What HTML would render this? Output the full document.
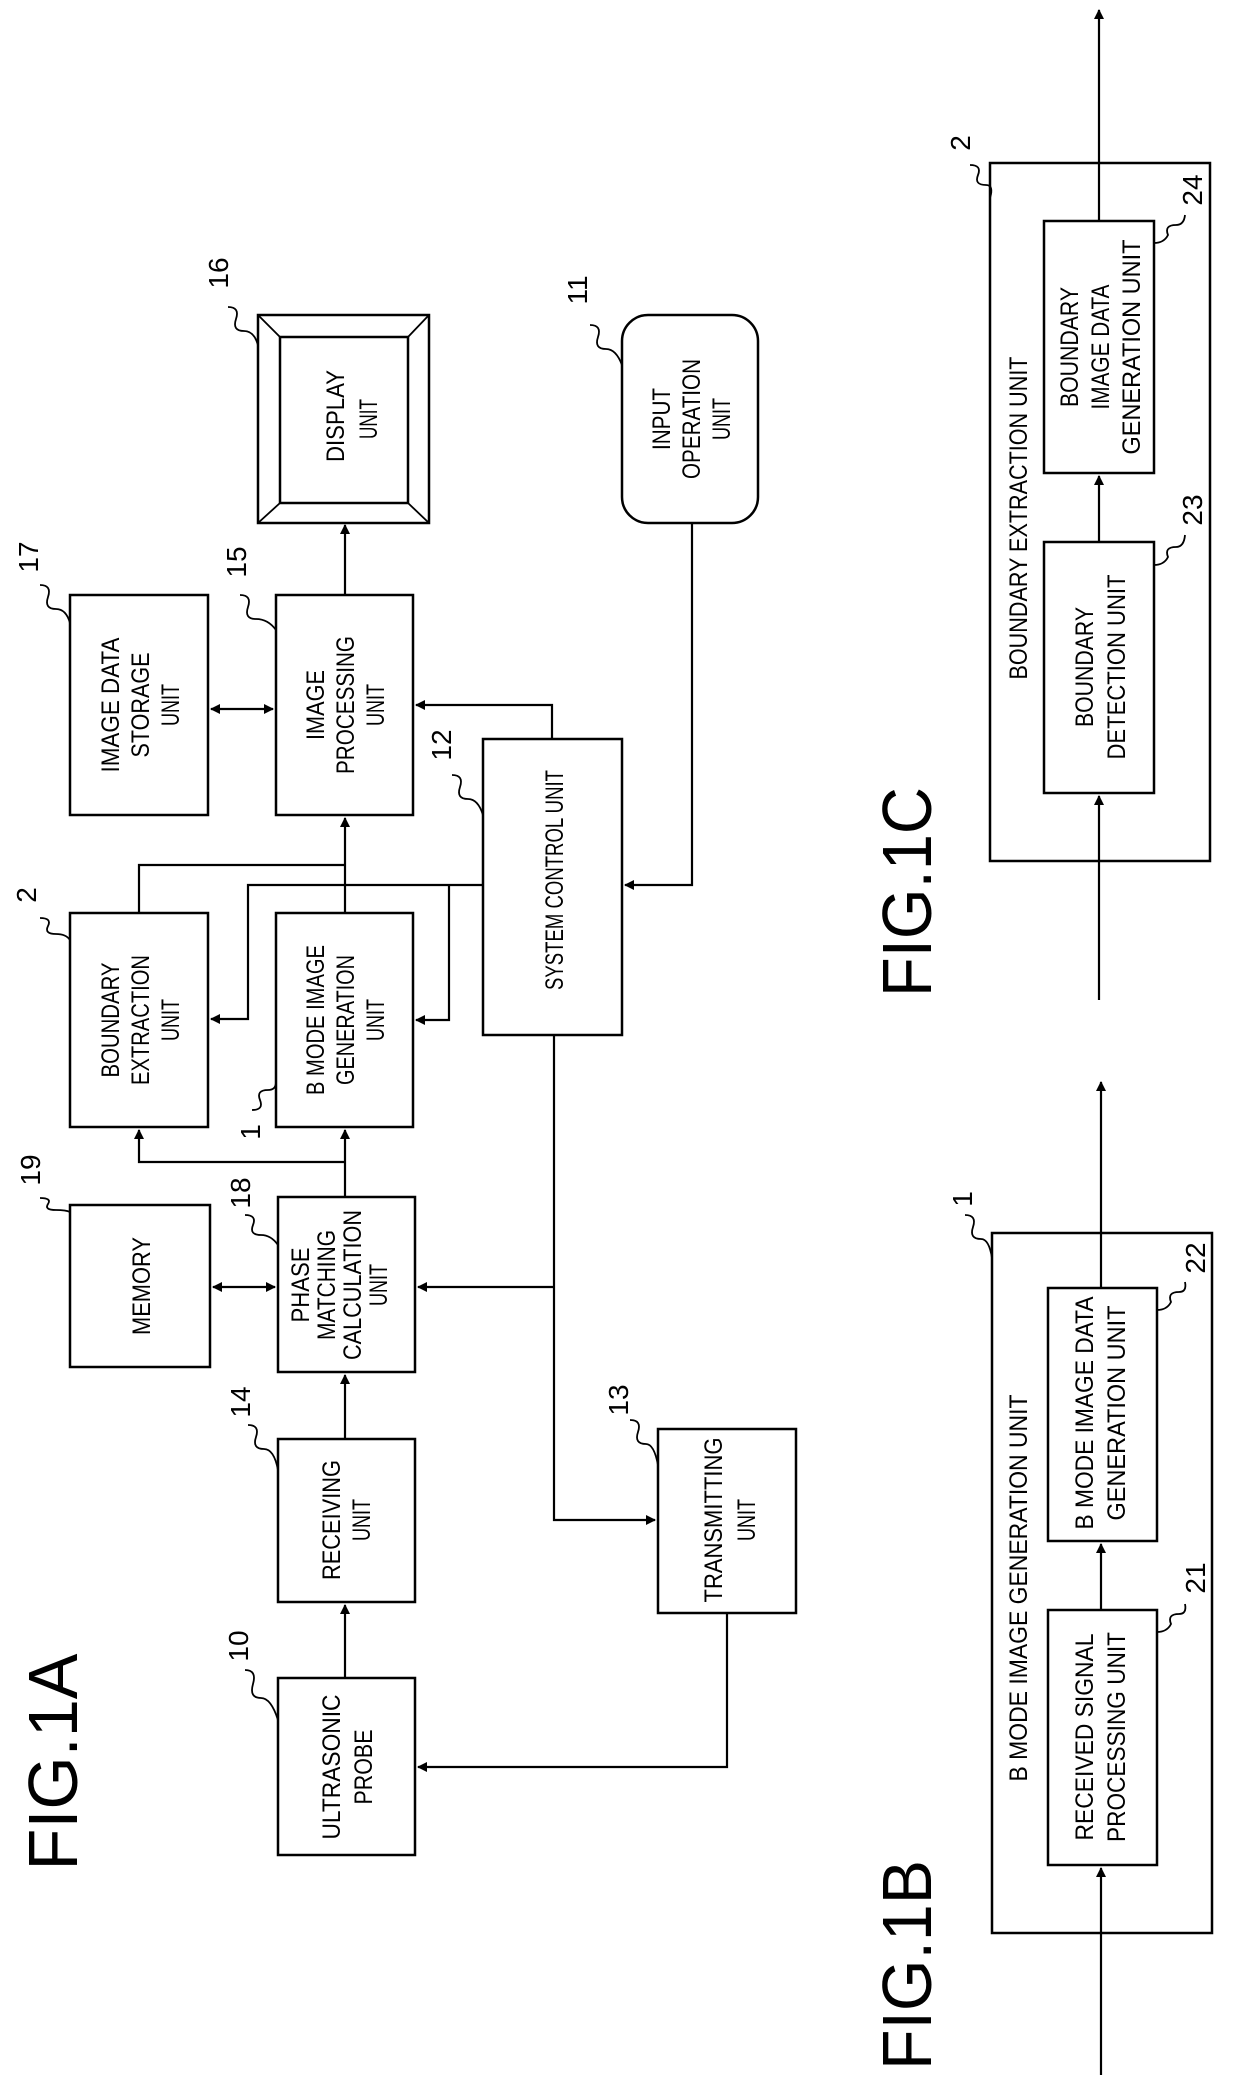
<!DOCTYPE html>
<html><head><meta charset="utf-8"><style>
html,body{margin:0;padding:0;background:#fff}
svg{display:block}
text{font-family:"Liberation Sans",sans-serif;fill:#000}
.b{fill:none;stroke:#000;stroke-width:2.5}
.l{fill:none;stroke:#000;stroke-width:2.2}
.s{fill:none;stroke:#000;stroke-width:1.8}
.t{font-size:25px}
.n{font-size:28px}
.f{font-size:70px}
</style></head><body>
<svg width="1240" height="2078" viewBox="0 0 1240 2078" xmlns="http://www.w3.org/2000/svg">
<defs>
<marker id="a" markerWidth="10" markerHeight="10" refX="9" refY="5" orient="auto" markerUnits="userSpaceOnUse"><path d="M0,0 L10,5 L0,10 z" fill="#000"/></marker>
<marker id="as" markerWidth="10" markerHeight="10" refX="1" refY="5" orient="auto" markerUnits="userSpaceOnUse"><path d="M10,0 L0,5 L10,10 z" fill="#000"/></marker>
</defs>

<!-- FIG 1A boxes -->
<rect class="b" x="258" y="315" width="171" height="208"/>
<rect class="b" x="280" y="337" width="128" height="166"/>
<path class="s" d="M258,315 L280,337 M429,315 L408,337 M258,523 L280,503 M429,523 L408,503"/>
<rect class="b" x="622" y="315" width="136" height="208" rx="26"/>
<rect class="b" x="70" y="595" width="138" height="220"/>
<rect class="b" x="276" y="595" width="137" height="220"/>
<rect class="b" x="483" y="739" width="139" height="296"/>
<rect class="b" x="70" y="913" width="138" height="214"/>
<rect class="b" x="276" y="913" width="137" height="214"/>
<rect class="b" x="70" y="1205" width="140" height="162"/>
<rect class="b" x="278" y="1197" width="137" height="175"/>
<rect class="b" x="278" y="1439" width="137" height="163"/>
<rect class="b" x="658" y="1429" width="138" height="184"/>
<rect class="b" x="278" y="1678" width="137" height="177"/>

<!-- FIG 1A connectors -->
<path class="l" d="M345,595 L345,525" marker-end="url(#a)"/>
<path class="l" d="M211,709 L273,709" marker-start="url(#as)" marker-end="url(#a)"/>
<path class="l" d="M552,739 L552,705 L416,705" marker-end="url(#a)"/>
<path class="l" d="M692,523 L692,885 L625,885" marker-end="url(#a)"/>
<path class="l" d="M483,885 L248,885 L248,1019 L211,1019" marker-end="url(#a)"/>
<path class="l" d="M449,885 L449,1020 L416,1020" marker-end="url(#a)"/>
<path class="l" d="M345,913 L345,818" marker-end="url(#a)"/>
<path class="l" d="M139,913 L139,865 L345,865"/>
<path class="l" d="M345,1197 L345,1130" marker-end="url(#a)"/>
<path class="l" d="M345,1162 L139,1162 L139,1130" marker-end="url(#a)"/>
<path class="l" d="M213,1287 L275,1287" marker-start="url(#as)" marker-end="url(#a)"/>
<path class="l" d="M554,1035 L554,1520 L655,1520" marker-end="url(#a)"/>
<path class="l" d="M554,1287 L418,1287" marker-end="url(#a)"/>
<path class="l" d="M345,1439 L345,1375" marker-end="url(#a)"/>
<path class="l" d="M345,1678 L345,1605" marker-end="url(#a)"/>
<path class="l" d="M727,1613 L727,1767 L418,1767" marker-end="url(#a)"/>

<!-- FIG 1B -->
<rect class="b" x="992" y="1233" width="220" height="700"/>
<rect class="b" x="1048" y="1610" width="109" height="255"/>
<rect class="b" x="1048" y="1288" width="109" height="253"/>
<path class="l" d="M1101,2075 L1101,1868" marker-end="url(#a)"/>
<path class="l" d="M1101,1610 L1101,1544" marker-end="url(#a)"/>
<path class="l" d="M1101,1288 L1101,1082" marker-end="url(#a)"/>

<!-- FIG 1C -->
<rect class="b" x="990" y="163" width="220" height="698"/>
<rect class="b" x="1044" y="221" width="110" height="252"/>
<rect class="b" x="1044" y="542" width="110" height="251"/>
<path class="l" d="M1099,1000 L1099,796" marker-end="url(#a)"/>
<path class="l" d="M1099,542 L1099,476" marker-end="url(#a)"/>
<path class="l" d="M1099,221 L1099,10" marker-end="url(#a)"/>

<!-- squiggles -->
<g class="s">
<path d="M228,307 q12,0 8,12 q-4,12 8,12 q10,0 14,14"/>
<path d="M40,585 q12,0 8,12 q-4,12 8,12 q10,0 14,14"/>
<path d="M240,595 q12,0 8,12 q-4,12 8,12 q12,0 20,11"/>
<path d="M452,775 q12,0 8,12 q-4,12 8,12 q10,0 15,16"/>
<path d="M590,325 q12,0 8,12 q-4,12 8,12 q10,0 16,16"/>
<path d="M40,918 q12,0 8,8 q-4,8 8,8 q10,0 14,6"/>
<path d="M970,165 q12,0 8,10 q-4,10 8,10 q8,0 4,13"/>
<path d="M1154,243 q10,0 14,-8 q-4,-10 8,-10 q8,0 9,-10"/>
<path d="M1154,565 q10,0 14,-8 q-4,-10 8,-10 q8,0 9,-12"/>
<path d="M252,1110 q12,0 8,-10 q-4,-10 8,-10 q8,0 8,-8"/>
<path d="M40,1198 q12,0 8,6 q-4,6 8,6 q10,0 14,2"/>
<path d="M245,1215 q12,0 8,10 q-4,10 8,10 q10,0 17,10"/>
<path d="M248,1425 q12,0 8,12 q-4,12 8,12 q10,0 14,21"/>
<path d="M630,1420 q12,0 8,12 q-4,12 8,12 q8,0 12,21"/>
<path d="M245,1670 q12,0 8,14 q-4,14 8,14 q10,0 17,22"/>
<path d="M965,1215 q12,0 8,12 q-4,12 8,12 q8,0 11,19"/>
<path d="M1157,1310 q10,0 14,-8 q-4,-10 8,-10 q8,0 6,-10"/>
<path d="M1157,1632 q10,0 14,-8 q-4,-10 8,-10 q8,0 6,-10"/>
</g>

<!-- labels numbers -->
<g class="n" text-anchor="middle">
<text transform="translate(228,273) rotate(-90)">16</text>
<text transform="translate(38,557) rotate(-90)">17</text>
<text transform="translate(246,562) rotate(-90)">15</text>
<text transform="translate(451,745) rotate(-90)">12</text>
<text transform="translate(587,290) rotate(-90)">11</text>
<text transform="translate(36,895) rotate(-90)">2</text>
<text transform="translate(970,143) rotate(-90)">2</text>
<text transform="translate(1202,190) rotate(-90)">24</text>
<text transform="translate(1202,510) rotate(-90)">23</text>
<text transform="translate(260,1132) rotate(-90)">1</text>
<text transform="translate(40,1170) rotate(-90)">19</text>
<text transform="translate(250,1193) rotate(-90)">18</text>
<text transform="translate(250,1402) rotate(-90)">14</text>
<text transform="translate(628,1400) rotate(-90)">13</text>
<text transform="translate(248,1646) rotate(-90)">10</text>
<text transform="translate(972,1199) rotate(-90)">1</text>
<text transform="translate(1205,1258) rotate(-90)">22</text>
<text transform="translate(1205,1578) rotate(-90)">21</text>
</g>

<!-- FIG titles -->
<g class="f" text-anchor="middle">
<text transform="translate(77,1762) rotate(-90)" textLength="217" lengthAdjust="spacingAndGlyphs">FIG.1A</text>
<text transform="translate(931,1965) rotate(-90)" textLength="210" lengthAdjust="spacingAndGlyphs">FIG.1B</text>
<text transform="translate(931,892) rotate(-90)" textLength="210" lengthAdjust="spacingAndGlyphs">FIG.1C</text>
</g>

<!-- box texts -->
<g class="t" text-anchor="middle">
<text transform="translate(344,416) rotate(-90)" textLength="92" lengthAdjust="spacingAndGlyphs">DISPLAY</text>
<text transform="translate(377,419) rotate(-90)" textLength="40" lengthAdjust="spacingAndGlyphs">UNIT</text>

<text transform="translate(670,419) rotate(-90)" textLength="62" lengthAdjust="spacingAndGlyphs">INPUT</text>
<text transform="translate(700,419) rotate(-90)" textLength="120" lengthAdjust="spacingAndGlyphs">OPERATION</text>
<text transform="translate(730,419) rotate(-90)" textLength="42" lengthAdjust="spacingAndGlyphs">UNIT</text>

<text transform="translate(119,705) rotate(-90)" textLength="135" lengthAdjust="spacingAndGlyphs">IMAGE DATA</text>
<text transform="translate(149,705) rotate(-90)" textLength="105" lengthAdjust="spacingAndGlyphs">STORAGE</text>
<text transform="translate(179,705) rotate(-90)" textLength="42" lengthAdjust="spacingAndGlyphs">UNIT</text>

<text transform="translate(324,705) rotate(-90)" textLength="70" lengthAdjust="spacingAndGlyphs">IMAGE</text>
<text transform="translate(354,705) rotate(-90)" textLength="138" lengthAdjust="spacingAndGlyphs">PROCESSING</text>
<text transform="translate(384,705) rotate(-90)" textLength="42" lengthAdjust="spacingAndGlyphs">UNIT</text>

<text transform="translate(563,880) rotate(-90)" textLength="220" lengthAdjust="spacingAndGlyphs">SYSTEM CONTROL UNIT</text>

<text transform="translate(119,1020) rotate(-90)" textLength="115" lengthAdjust="spacingAndGlyphs">BOUNDARY</text>
<text transform="translate(149,1020) rotate(-90)" textLength="130" lengthAdjust="spacingAndGlyphs">EXTRACTION</text>
<text transform="translate(179,1020) rotate(-90)" textLength="42" lengthAdjust="spacingAndGlyphs">UNIT</text>

<text transform="translate(324,1020) rotate(-90)" textLength="150" lengthAdjust="spacingAndGlyphs">B MODE IMAGE</text>
<text transform="translate(354,1020) rotate(-90)" textLength="130" lengthAdjust="spacingAndGlyphs">GENERATION</text>
<text transform="translate(384,1020) rotate(-90)" textLength="42" lengthAdjust="spacingAndGlyphs">UNIT</text>

<text transform="translate(150,1286) rotate(-90)" textLength="98" lengthAdjust="spacingAndGlyphs">MEMORY</text>

<text transform="translate(309,1285) rotate(-90)" textLength="75" lengthAdjust="spacingAndGlyphs">PHASE</text>
<text transform="translate(335,1285) rotate(-90)" textLength="110" lengthAdjust="spacingAndGlyphs">MATCHING</text>
<text transform="translate(361,1285) rotate(-90)" textLength="150" lengthAdjust="spacingAndGlyphs">CALCULATION</text>
<text transform="translate(387,1285) rotate(-90)" textLength="42" lengthAdjust="spacingAndGlyphs">UNIT</text>

<text transform="translate(340,1520) rotate(-90)" textLength="120" lengthAdjust="spacingAndGlyphs">RECEIVING</text>
<text transform="translate(370,1520) rotate(-90)" textLength="42" lengthAdjust="spacingAndGlyphs">UNIT</text>

<text transform="translate(722,1520) rotate(-90)" textLength="165" lengthAdjust="spacingAndGlyphs">TRANSMITTING</text>
<text transform="translate(755,1520) rotate(-90)" textLength="42" lengthAdjust="spacingAndGlyphs">UNIT</text>

<text transform="translate(340,1767) rotate(-90)" textLength="145" lengthAdjust="spacingAndGlyphs">ULTRASONIC</text>
<text transform="translate(372,1767) rotate(-90)" textLength="75" lengthAdjust="spacingAndGlyphs">PROBE</text>

<text transform="translate(1027,1588) rotate(-90)" textLength="387" lengthAdjust="spacingAndGlyphs">B MODE IMAGE GENERATION UNIT</text>
<text transform="translate(1093,1737) rotate(-90)" textLength="207" lengthAdjust="spacingAndGlyphs">RECEIVED SIGNAL</text>
<text transform="translate(1125,1737) rotate(-90)" textLength="210" lengthAdjust="spacingAndGlyphs">PROCESSING UNIT</text>
<text transform="translate(1093,1413) rotate(-90)" textLength="233" lengthAdjust="spacingAndGlyphs">B MODE IMAGE DATA</text>
<text transform="translate(1125,1413) rotate(-90)" textLength="215" lengthAdjust="spacingAndGlyphs">GENERATION UNIT</text>

<text transform="translate(1027,518) rotate(-90)" textLength="323" lengthAdjust="spacingAndGlyphs">BOUNDARY EXTRACTION UNIT</text>
<text transform="translate(1093,667) rotate(-90)" textLength="120" lengthAdjust="spacingAndGlyphs">BOUNDARY</text>
<text transform="translate(1125,667) rotate(-90)" textLength="185" lengthAdjust="spacingAndGlyphs">DETECTION UNIT</text>
<text transform="translate(1078,347) rotate(-90)" textLength="120" lengthAdjust="spacingAndGlyphs">BOUNDARY</text>
<text transform="translate(1109,347) rotate(-90)" textLength="125" lengthAdjust="spacingAndGlyphs">IMAGE DATA</text>
<text transform="translate(1140,347) rotate(-90)" textLength="215" lengthAdjust="spacingAndGlyphs">GENERATION UNIT</text>
</g>
</svg>
</body></html>
